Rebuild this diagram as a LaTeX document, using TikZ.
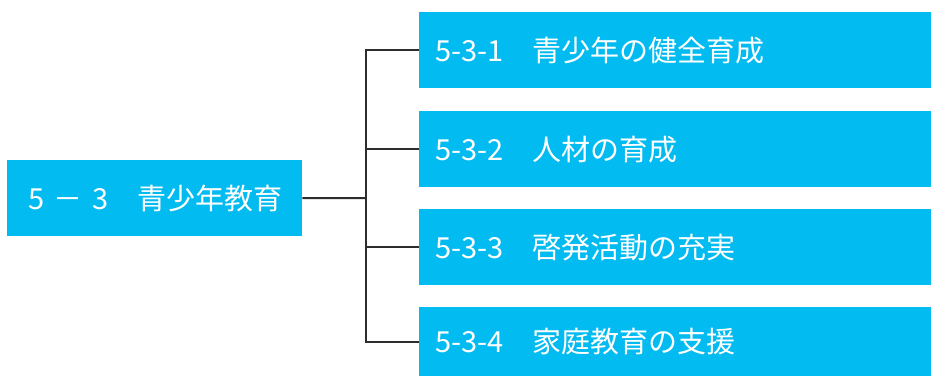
\documentclass[tikz,border=0pt]{standalone}
\usepackage{fontspec}
\setmainfont{Noto Sans CJK JP}
\definecolor{boxblue}{RGB}{2,187,241}
\definecolor{linegray}{RGB}{45,45,45}
\begin{document}
\begin{tikzpicture}[x=1pt,y=-1pt,
  box/.style={fill=boxblue,draw=none,anchor=north west,minimum height=76pt,
    inner ysep=0pt,text=white,font=\fontsize{29}{32}\selectfont,align=left},
  rbox/.style={box,minimum width=512pt,inner xsep=16pt,text width=480pt},
  conn/.style={draw=linegray,line width=2pt}]
\useasboundingbox (0,0) rectangle (931,376);
\node[box,minimum width=295pt,inner xsep=21pt,text width=253pt] (L) at (7,160) {\mbox{5 － 3　青少年教育}};
\node[rbox] (b1) at (419,12) {\mbox{5-3-1　青少年の健全育成}};
\node[rbox] (b2) at (419,111) {\mbox{5-3-2　人材の育成}};
\node[rbox] (b3) at (419,209) {\mbox{5-3-3　啓発活動の充実}};
\node[rbox,minimum height=69pt] (b4) at (419,307) {\mbox{5-3-4　家庭教育の支援}};
\coordinate (j) at (366,198);
\draw[conn] (L.east) -- (j);
\draw[conn] (b1.west) -- (b1.west -| j) -- (b4.west -| j) -- (b4.west);
\draw[conn] (b2.west -| j) -- (b2.west);
\draw[conn] (b3.west -| j) -- (b3.west);
\end{tikzpicture}
\end{document}
